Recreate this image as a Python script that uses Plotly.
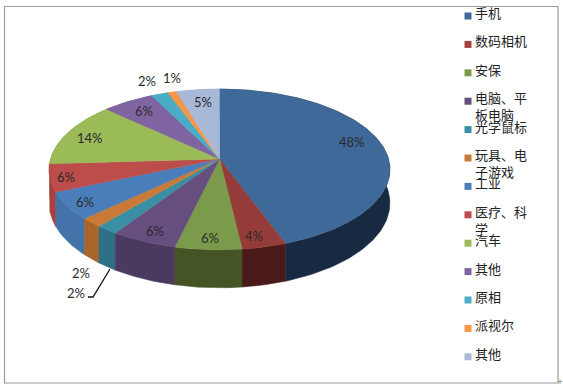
import math
import plotly.graph_objects as go

categories = ["手机", "数码相机", "安保", "电脑、平<br>板电脑", "光学鼠标", "玩具、电<br>子游戏", "工业",
              "医疗、科<br>学", "汽车", "其他", "原相", "派视尔", "其他"]
values = [48, 4, 6, 6, 2, 2, 6, 6, 14, 6, 2, 1, 5]
pct_labels = ["48%", "4%", "6%", "6%", "2%", "2%", "6%", "6%", "14%", "6%", "2%", "1%", "5%"]

top_colors = ["#3e6999", "#953c3b", "#7c9a4b", "#664e7e", "#3a8fa5", "#c97a37", "#4a7ebb",
              "#bd4d4b", "#9bbb59", "#8064a2", "#4bacc6", "#f79646", "#a8b9d8"]
side_colors = ["#172a42", "#4a1a1a", "#445425", "#4a3a60", "#2f7085", "#a9652a", "#4373a8",
               "#a84040", "#7c9a4b", "#664e7e", "#3a8fa5", "#c97a37", "#8a9ab8"]
legend_colors = ["#3e6999", "#a5403e", "#7f9a48", "#664e7e", "#3a8fa5", "#c97a37", "#4a7ebb",
                 "#bd4d4b", "#9bbb59", "#8064a2", "#4bacc6", "#f79646", "#a8b9d8"]

# pie geometry (pixels, perspective projection of a disc)
CX, CY, RX, RY, K, DEPTH = 219.5, 159.0, 169.0, 79.0, 0.13, 38.0
label_pos = [(352, 142), (254, 236), (210, 238), (155, 231), (81, 273), (76, 293), (85, 202),
             (66, 177), (90, 138), (144, 111), (147, 81), (172, 78), (203, 102)]


def project(theta, drop=0.0):
    x, t = math.sin(theta), -math.cos(theta)
    s = 1 / (1 - K * t)
    y = CY + RY * t * s
    if drop:
        y += drop * s / (1 / (1 - K))
    return CX + RX * x * s, y


total = sum(values)
edges = [0.0]
for v in values:
    edges.append(edges[-1] + v / total * 2 * math.pi)


def arc(a, b, drop=0.0):
    n = max(4, int((b - a) / 0.02))
    return [project(a + (b - a) * i / n, drop) for i in range(n + 1)]


fig = go.Figure()

# outer walls, back to front
order = sorted(range(len(values)), key=lambda i: -math.cos((edges[i] + edges[i + 1]) / 2))
for i in order:
    up = arc(edges[i], edges[i + 1])
    down = arc(edges[i], edges[i + 1], DEPTH)[::-1]
    pts = up + down + up[:1]
    fig.add_trace(go.Scatter(x=[p[0] for p in pts], y=[p[1] for p in pts], mode="lines",
                             fill="toself", fillcolor=side_colors[i],
                             line=dict(color=side_colors[i], width=0.5), hoverinfo="skip"))
# top faces
for i in range(len(values)):
    pts = [(CX, CY)] + arc(edges[i], edges[i + 1]) + [(CX, CY)]
    fig.add_trace(go.Scatter(x=[p[0] for p in pts], y=[p[1] for p in pts], mode="lines",
                             fill="toself", fillcolor=top_colors[i],
                             line=dict(color=top_colors[i], width=0.5), hoverinfo="skip"))

# legend
LEG_X, LEG_Y, LEG_STEP = 468, 16, 28.4
leg_y = [LEG_Y + i * LEG_STEP for i in range(len(categories))]
fig.add_trace(go.Scatter(x=[LEG_X] * len(categories), y=leg_y, mode="markers",
                         marker=dict(symbol="square", size=7, color=legend_colors),
                         hoverinfo="skip"))

ann = []
for name, y in zip(categories, leg_y):
    ann.append(dict(x=472.5, y=y - 15, text=name, xref="x", yref="y", xanchor="left", yanchor="top",
                    align="left", showarrow=False, font=dict(family="Noto Sans CJK SC", size=13, color="#222222")))
for txt, (x, y) in zip(pct_labels, label_pos):
    ann.append(dict(x=x, y=y, text=txt, xref="x", yref="y", xanchor="center", yanchor="middle",
                    showarrow=False, font=dict(family="Lato", size=13, color="#2a2a2a")))
ann.append(dict(x=560, y=382, text="+", xref="x", yref="y", showarrow=False,
                font=dict(family="DejaVu Sans", size=7, color="#666666")))

fig.update_layout(
    width=563, height=390, margin=dict(l=0, r=0, t=0, b=0), showlegend=False,
    paper_bgcolor="white", plot_bgcolor="white", annotations=ann,
    xaxis=dict(range=[0, 563], visible=False, fixedrange=True),
    yaxis=dict(range=[390, 0], visible=False, fixedrange=True),
    shapes=[
        dict(type="rect", x0=4.5, y0=6.5, x1=558, y1=383, xref="x", yref="y",
             line=dict(color="#9a9a9a", width=1.2), layer="below"),
        dict(type="path", path="M 110 269 L 93 297 L 88 297", xref="x", yref="y",
             line=dict(color="#111111", width=1.3)),
    ],
)
fig.write_html("out.html", config={"displayModeBar": False},
               post_script="document.body.style.margin='0';document.body.style.overflow='hidden';")
